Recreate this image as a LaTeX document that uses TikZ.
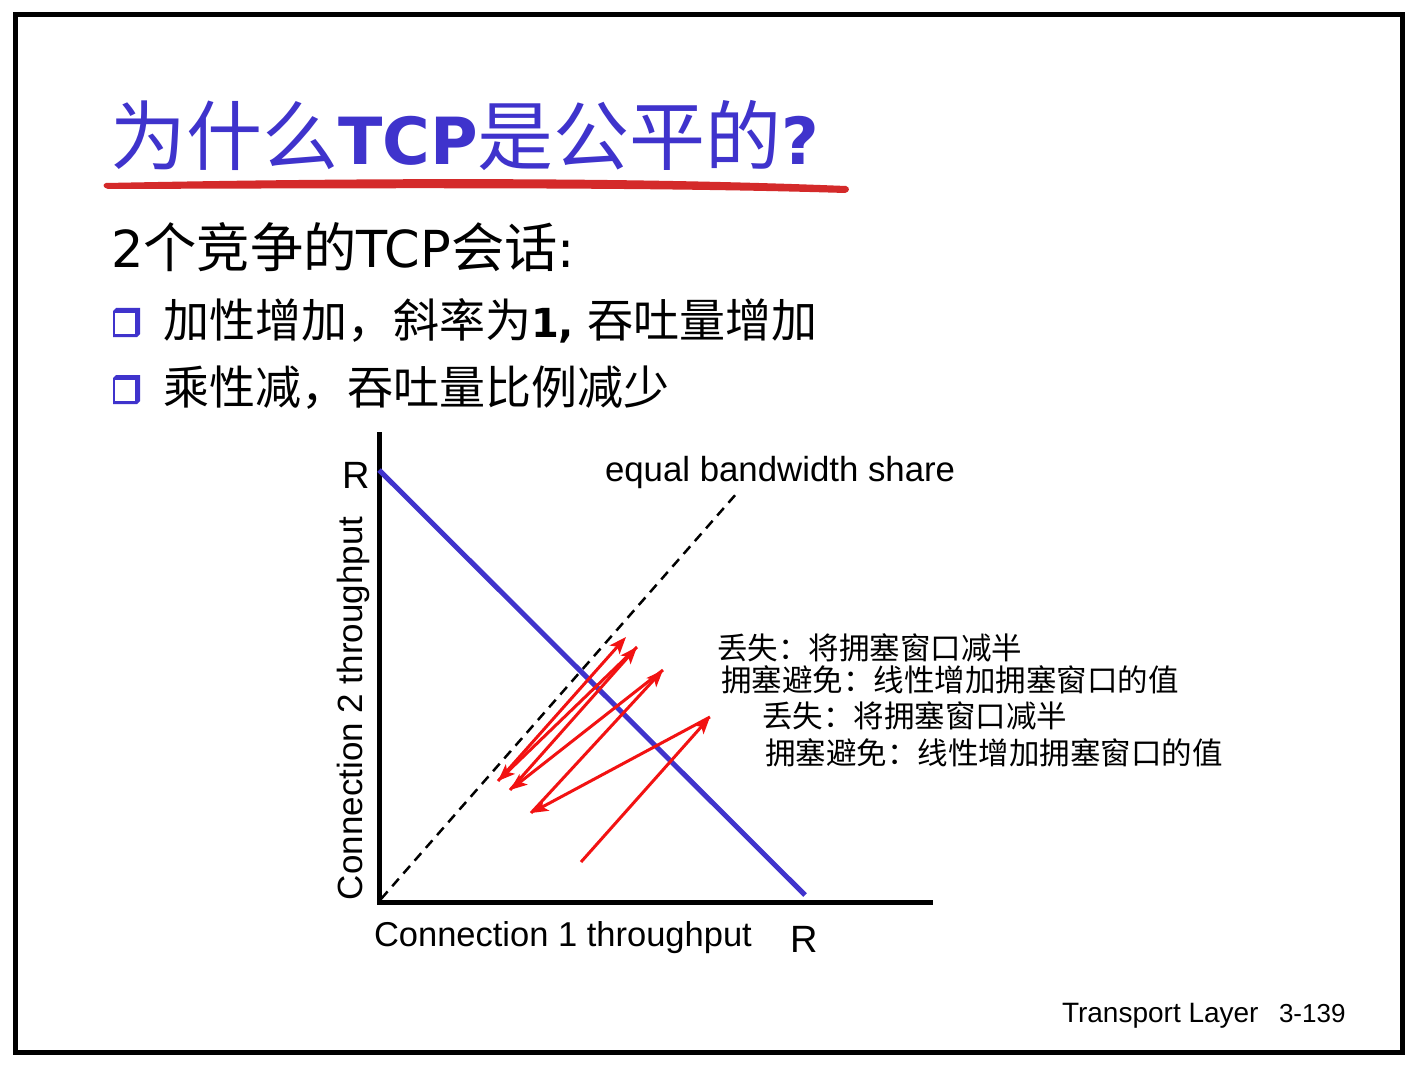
\documentclass[tikz,border=0pt]{standalone}
\usepackage{fontspec}
\setmainfont{Liberation Sans}
\newfontfamily\cjk{Noto Sans CJK SC}
\newfontfamily\tah{DejaVu Sans}
\usetikzlibrary{arrows.meta}
\definecolor{titleblue}{HTML}{3F33CC}
\definecolor{lineblue}{HTML}{4033CC}
\definecolor{sawred}{HTML}{F21212}
\definecolor{brushred}{HTML}{D42A2A}
\newcommand\fs[1]{\fontsize{#1}{#1}\selectfont}
\tikzset{
  lbl/.style={inner sep=0pt, outer sep=0pt, anchor=base west},
  frameline/.style={line width=5pt},
  axisline/.style={line width=5pt, line join=miter},
  shareline/.style={line width=2.5pt, dash pattern=on 10pt off 7pt},
  fairline/.style={line width=5pt, draw=lineblue},
  saw/.style={draw=sawred, line width=3pt, -{Stealth[length=17pt,width=13pt,inset=4pt]}},
  note/.style={lbl, font=\cjk\fs{30.5}},
  bulletbox/.pic={
    \fill[titleblue] (0,3) -- (3,0) -- (27,0) -- (27,26) -- (24,29) -- (0,29) -- cycle;
    \fill[white] (2,5) rectangle (22,26);
  }
}
\begin{document}
\begin{tikzpicture}[x=1pt,y=-1pt]
\useasboundingbox (0,0) rectangle (1419,1075);
\fill[white] (0,0) rectangle (1419,1075);
\draw[frameline] (15.5,14.5) rectangle (1402.5,1052);

% heading with brush underline
\node[lbl, text=titleblue] (title) at (110,165)
  {\cjk\fs{76}为什么\tah\bfseries\fs{65}TCP\cjk\mdseries\fs{76}是公平的\tah\bfseries\fs{65}?};
\fill[brushred]
  (106,183) .. controls (400,177) and (650,178) .. (846,186)
  .. controls (850,187) and (850,192) .. (845,193)
  .. controls (650,187) and (400,188) .. (108,189)
  .. controls (103,188) and (102,184) .. (106,183) -- cycle;

% subheading and bullets
\node[lbl] (sub) at (111,268)
  {\tah\fs{51}2\cjk\fs{53.3}个竞争的\tah\fs{51}TCP\cjk\fs{53.3}会话\tah\fs{51}:};
\pic at (113,308) {bulletbox};
\pic at (113,375) {bulletbox};
\node[lbl] (b1) at (163,337.5)
  {\cjk\fs{46}加性增加，斜率为\tah\bfseries\fs{40}1,\ \cjk\mdseries\fs{46}吞吐量增加};
\node[lbl] (b2) at (163,404.5) {\cjk\fs{46}乘性减，吞吐量比例减少};

% axes
\coordinate (O) at (379.5,902.5);
\coordinate (ytop) at (379.5,432);
\coordinate (xend) at (933,902.5);
\draw[axisline] (ytop) -- (O) -- (xend);

% equal share and full utilization lines
\coordinate (s0) at (381,899);
\coordinate (s1) at (737,493);
\draw[shareline] (s0) -- (s1);
\coordinate (fA) at (379,470);
\coordinate (fB) at (805,895);
\draw[fairline] (fA) -- (fB);

% AIMD sawtooth
\coordinate (p0) at (581,862);
\coordinate (p1) at (710,717);
\coordinate (p2) at (531,813);
\coordinate (p3) at (663,670);
\coordinate (p4) at (510,790);
\coordinate (p5) at (637,647);
\coordinate (p6) at (498,781);
\coordinate (p7) at (626,637);
\draw[saw] (p0) -- (p1);
\draw[saw] (p1) -- (p2);
\draw[saw] (p2) -- (p3);
\draw[saw] (p3) -- (p4);
\draw[saw] (p4) -- (p5);
\draw[saw] (p5) -- (p6);
\draw[saw] (p6) -- (p7);

% axis labels
\node[lbl] (Ry) at (342,488) {\fs{38}R};
\node[lbl] (Rx) at (790,952) {\fs{38}R};
\node[lbl] (xlab) at (374,946) {\fs{34.5}Connection 1 throughput};
\node[lbl, rotate=90] (ylab) at (362,900) {\fs{35}Connection 2 throughput};
\node[lbl] (share) at (605,481) {\fs{34.8}equal bandwidth share};

% annotations
\node[note] (n1) at (717,659.5) {丢失：将拥塞窗口减半};
\node[note] (n2) at (721,691.5) {拥塞避免：线性增加拥塞窗口的值};
\node[note] (n3) at (762,727.5) {丢失：将拥塞窗口减半};
\node[note] (n4) at (765,764) {拥塞避免：线性增加拥塞窗口的值};

% footer
\node[lbl] (foot) at (1062,1022) {\fs{28}Transport Layer};
\node[lbl] (page) at (1279,1022) {\fs{26}3-139};
\end{tikzpicture}
\end{document}
